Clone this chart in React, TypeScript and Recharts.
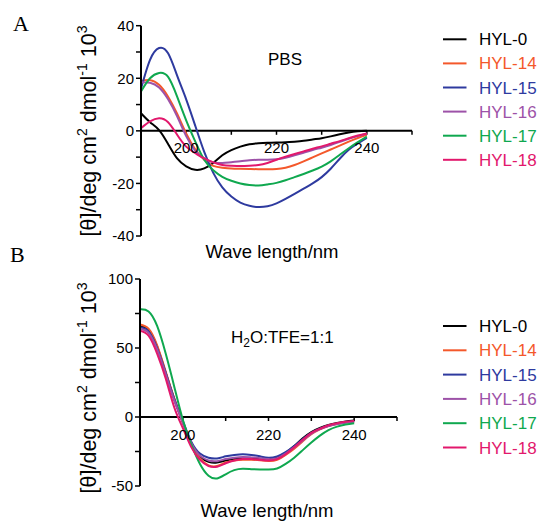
import React from 'react';
import { LineChart, Line, XAxis, YAxis, ReferenceLine, Label, Legend } from 'recharts';

const wavelengths = [190, 192, 194, 196, 198, 200, 202, 204, 206, 208, 210, 212, 214, 216, 218, 220, 222, 224, 226, 228, 230, 232, 234, 236, 238, 240];

const seriesNames = ['HYL-0', 'HYL-14', 'HYL-15', 'HYL-16', 'HYL-17', 'HYL-18'];
const seriesColors = ['#000000', '#F4582B', '#2E3A9F', '#9D52A8', '#0FA84F', '#E2186C'];

// Panel A: PBS
const pbsHYL0 = [6.7, 3.3, 0.3, -5, -10.5, -13.5, -14.8, -14.3, -12.2, -9.3, -7.3, -6, -5.1, -4.7, -4.5, -4.4, -4.3, -4.1, -3.8, -3.3, -2.8, -2.1, -1.3, -0.6, -0.2, 0];
const pbsHYL14 = [19, 19.3, 17.5, 13, 6.5, -1, -7, -11, -13.3, -14, -14.3, -14.4, -14.5, -14.6, -14.6, -14.5, -14, -13, -11.6, -10.1, -8.6, -7.1, -5.6, -4.1, -2.7, -1.5];
const pbsHYL15 = [16, 27, 31.5, 29.5, 21, 12, 2, -8, -16, -21.5, -25, -27.3, -28.5, -29, -28.7, -27.6, -25.9, -24, -22, -20, -17.6, -14.4, -10.6, -7.2, -4.8, -2.7];
const pbsHYL16 = [18.5, 18.3, 16.5, 12, 5.5, -2, -7.5, -10.5, -12, -12.2, -11.9, -11.6, -11.2, -11, -11, -10.8, -10.2, -9.3, -8.3, -7.3, -6.4, -5.4, -4.2, -3, -2, -1];
const pbsHYL17 = [15, 20, 22, 20.5, 13, 4, -4, -11, -15, -17.5, -19, -20, -20.6, -20.8, -20.4, -19.8, -18.8, -17.6, -16.4, -15.1, -13.6, -11.6, -9.1, -6.6, -4.3, -2.2];
const pbsHYL18 = [1, 3.6, 4.8, 3.3, -1.5, -6, -8.5, -10.5, -12, -13, -13.3, -13.4, -13.3, -13, -12.2, -11, -9.8, -8.8, -7.8, -6.8, -5.9, -4.9, -3.9, -2.8, -1.8, -1];

// Panel B: H2O:TFE = 1:1
const tfeHYL0 = [66, 63, 51, 32, 13, -4, -19, -28.5, -32.5, -33, -31.5, -30.5, -30, -30, -30.3, -30.6, -29.5, -26, -21, -15.5, -11, -8, -5.8, -4.3, -3.2, -2.5];
const tfeHYL14 = [67, 64, 52, 33, 13.5, -4, -20, -30, -35, -35.5, -33, -31.5, -31, -31, -31.3, -31.8, -31, -27.5, -23, -17.5, -12.5, -9, -6.5, -5, -4, -3.2];
const tfeHYL15 = [65, 62, 50, 32, 13, -3, -18, -26.5, -29.5, -30, -28.5, -27.5, -27, -27.5, -28.5, -29.5, -28.5, -25.5, -21, -16, -11.5, -8.5, -6.3, -4.8, -3.8, -3];
const tfeHYL16 = [64, 61, 49, 31, 12, -4, -19, -28, -31.5, -32, -30.5, -29.5, -29, -29.3, -29.8, -30.5, -29.8, -26.5, -22, -17, -12, -8.8, -6.5, -5, -4, -3.2];
const tfeHYL17 = [78, 76.5, 66, 46, 22, -2, -20, -34, -42.5, -44.5, -41.5, -38.5, -37.5, -37.8, -38, -38, -37.3, -34, -29.5, -24, -18.5, -13.5, -9.5, -7, -5.5, -4.6];
const tfeHYL18 = [62.5, 59, 46, 28, 7, -8, -22, -31, -35.5, -36, -33.5, -31.5, -30.5, -30.5, -31, -31.5, -30.5, -27, -22, -16.5, -11.5, -8.5, -6, -4.5, -3.5, -2.8];

const pbsSeries = [pbsHYL0, pbsHYL14, pbsHYL15, pbsHYL16, pbsHYL17, pbsHYL18];
const tfeSeries = [tfeHYL0, tfeHYL14, tfeHYL15, tfeHYL16, tfeHYL17, tfeHYL18];

const xTickValues = [200, 210, 220, 230, 240, 250];
const xTickLabels = ['200', '', '220', '', '240', ''];
const yTicksA = [-40, -30, -20, -10, 0, 10, 20, 30, 40];
const yLabelsA = ['-40', '', '-20', '', '0', '', '20', '', '40'];
const yTicksB = [-50, -25, 0, 25, 50, 75, 100];
const yLabelsB = ['-50', '', '0', '', '50', '', '100'];

const FONT = '"Liberation Sans", Arial, sans-serif';
const SERIF = '"Liberation Serif", "Times New Roman", serif';

function buildRows(series: number[][]) {
  return wavelengths.map((w, i) => {
    const row: Record<string, number> = { w };
    seriesNames.forEach((n, j) => {
      row[n] = series[j][i];
    });
    return row;
  });
}

const rowsA = buildRows(pbsSeries);
const rowsB = buildRows(tfeSeries);

function YTitle({ cx, cy }: { cx: number; cy: number }) {
  return (
    <text
      transform={`rotate(-90 ${cx} ${cy})`}
      x={cx}
      y={cy}
      textAnchor="middle"
      fontSize={21.5}
      fill="#000"
      fontFamily={FONT}
    >
      [θ]/deg cm<tspan dy={-9} fontSize={14}>2</tspan>
      <tspan dy={9}> dmol</tspan>
      <tspan dy={-9} fontSize={14}>-1</tspan>
      <tspan dy={9}> 10</tspan>
      <tspan dy={-9} fontSize={14}>3</tspan>
    </text>
  );
}

function LegendBox(props: any) {
  const { payload, firstY, gap } = props;
  return (
    <svg width={100} height={170} style={{ display: 'block' }}>
      {(payload || []).map((p: any, i: number) => {
        const y = firstY + i * gap;
        return (
          <g key={p.value}>
            <line x1={3} x2={26.5} y1={y} y2={y} stroke={p.color} strokeWidth={2} />
            <text x={39} y={y + 6} fill={p.color} fontSize={17} fontFamily={FONT}>
              {p.value}
            </text>
          </g>
        );
      })}
    </svg>
  );
}

function Panel(props: {
  rows: Record<string, number>[];
  height: number;
  margin: { top: number; right: number; bottom: number; left: number };
  yDomain: [number, number];
  yTicks: number[];
  yLabels: string[];
  tickLen: number;
  titleCy: number;
  legendTop: number;
  legendFirstY: number;
  legendGap: number;
}) {
  const { rows, height, margin, yDomain, yTicks, yLabels, tickLen, titleCy, legendTop, legendFirstY, legendGap } = props;
  return (
    <LineChart width={540} height={height} data={rows} margin={margin}>
      <XAxis dataKey="w" type="number" domain={[190, 250]} hide />
      <YAxis
        type="number"
        domain={yDomain}
        ticks={yTicks}
        interval={0}
        width={60}
        tickFormatter={(v: number) => yLabels[yTicks.indexOf(v)] ?? ''}
        axisLine={{ stroke: '#000', strokeWidth: 2 }}
        tickLine={{ stroke: '#000', strokeWidth: 1.5 }}
        tickSize={5}
        tickMargin={2}
        tick={{ fill: '#000', fontSize: 15, fontFamily: FONT }}
      >
        <Label content={() => <YTitle cx={96} cy={titleCy} />} />
      </YAxis>
      <ReferenceLine y={0} stroke="#000" strokeWidth={2} ifOverflow="visible" />
      {xTickValues.map((t, i) => (
        <ReferenceLine
          key={t}
          segment={[
            { x: t, y: 0 },
            { x: t, y: -tickLen },
          ]}
          stroke="#000"
          strokeWidth={1.5}
          ifOverflow="visible"
          label={
            xTickLabels[i]
              ? { value: xTickLabels[i], position: 'bottom', offset: 8, fill: '#000', fontSize: 15, fontFamily: FONT }
              : undefined
          }
        />
      ))}
      {seriesNames.map((n, j) => (
        <Line
          key={n}
          dataKey={n}
          name={n}
          type="natural"
          stroke={seriesColors[j]}
          strokeWidth={2}
          dot={false}
          activeDot={false}
          isAnimationActive={false}
        />
      ))}
      <Legend
        layout="vertical"
        align="center"
        verticalAlign="middle"
        wrapperStyle={{ left: 440, top: legendTop, width: 100 }}
        content={(p: any) => <LegendBox payload={p.payload} firstY={legendFirstY} gap={legendGap} />}
      />
    </LineChart>
  );
}

export default function App() {
  return (
    <div style={{ position: 'absolute', left: 0, top: 0, width: 540, height: 521, background: '#fff', fontFamily: FONT }}>
      <div style={{ position: 'absolute', left: 0, top: 0 }}>
        <Panel
          rows={rowsA}
          height={260}
          margin={{ top: 25.7, right: 128, bottom: 24, left: 81 }}
          yDomain={[-40, 40]}
          yTicks={yTicksA}
          yLabels={yLabelsA}
          tickLen={1.5}
          titleCy={131}
          legendTop={27}
          legendFirstY={12.3}
          legendGap={24.1}
        />
      </div>
      <div style={{ position: 'absolute', left: 0, top: 260 }}>
        <Panel
          rows={rowsB}
          height={261}
          margin={{ top: 19, right: 143, bottom: 35, left: 80 }}
          yDomain={[-50, 100]}
          yTicks={yTicksB}
          yLabels={yLabelsB}
          tickLen={2.9}
          titleCy={128}
          legendTop={53}
          legendFirstY={13}
          legendGap={24.3}
        />
      </div>
      <svg
        width={540}
        height={521}
        style={{ position: 'absolute', left: 0, top: 0, pointerEvents: 'none' }}
      >
        <text x={13} y={31} fontSize={22} fontFamily={SERIF} fill="#000">A</text>
        <text x={10} y={262} fontSize={22} fontFamily={SERIF} fill="#000">B</text>
        <text x={268} y={65} fontSize={17} fontFamily={FONT} fill="#000">PBS</text>
        <text x={231} y={342.7} fontSize={17} fontFamily={FONT} fill="#000">
          H<tspan dy={4} fontSize={12}>2</tspan>
          <tspan dy={-4}>O:TFE=1:1</tspan>
        </text>
        <text x={272} y={258} fontSize={18.5} fontFamily={FONT} fill="#000" textAnchor="middle">Wave length/nm</text>
        <text x={267} y={517} fontSize={18.5} fontFamily={FONT} fill="#000" textAnchor="middle">Wave length/nm</text>
      </svg>
    </div>
  );
}
